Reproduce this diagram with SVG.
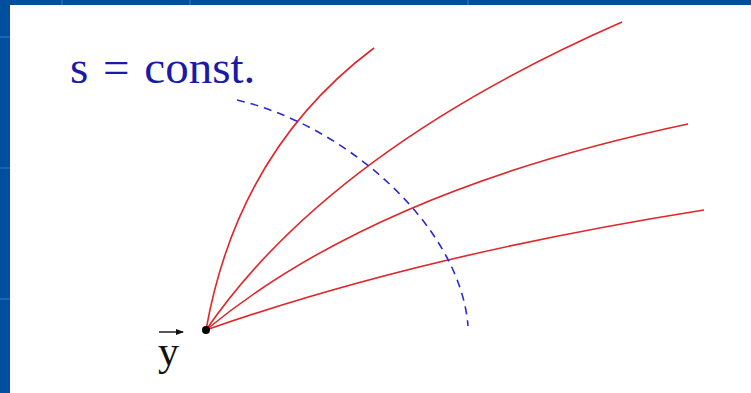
<svg xmlns="http://www.w3.org/2000/svg" width="751" height="393" viewBox="0 0 751 393">
<defs>
<style>
.ray{fill:none;stroke:#e0262a;stroke-width:1.6}
.grid{stroke:#1565b8;stroke-width:2}
.lbl{font-family:"Liberation Serif","Times New Roman",serif}
</style>
<marker id="ah" markerWidth="8" markerHeight="6" refX="7" refY="3" orient="auto" markerUnits="userSpaceOnUse">
<path d="M0,0 L8,3 L0,6 Z" fill="#111"/>
</marker>
</defs>
<rect width="751" height="393" fill="#004f9e"/>
<g class="grid">
<line x1="0" y1="37" x2="10" y2="37"/>
<line x1="0" y1="168" x2="10" y2="168"/>
<line x1="0" y1="299" x2="10" y2="299"/>
<line x1="62" y1="0" x2="62" y2="5"/>
<line x1="190" y1="0" x2="190" y2="5"/>
<line x1="468" y1="0" x2="468" y2="5"/>
</g>
<rect x="10" y="5" width="741" height="388" fill="#ffffff"/>
<g id="rays">
<path class="ray" d="M206,330 Q238,150 374,48"/>
<path class="ray" d="M206,330 Q330,150 622,22"/>
<path class="ray" d="M206,330 Q375,190 688,124"/>
<path class="ray" d="M206,330 Q420,255 704,210"/>
</g>
<g id="level-set">
<path d="M237,100 C345,125 460,225 468,326" fill="none" stroke="#2a2ad0" stroke-width="1.6" stroke-dasharray="8,6"/>
<text class="lbl" x="70" y="83" font-size="47" fill="#1a1aa8" word-spacing="3">s = const.</text>
</g>
<g id="point-y">
<circle cx="206" cy="330" r="4" fill="#000"/>
<line x1="159" y1="332" x2="183" y2="332" stroke="#111" stroke-width="1.4" marker-end="url(#ah)"/>
<text class="lbl" x="158" y="365" font-size="42" fill="#111">y</text>
</g>
</svg>
